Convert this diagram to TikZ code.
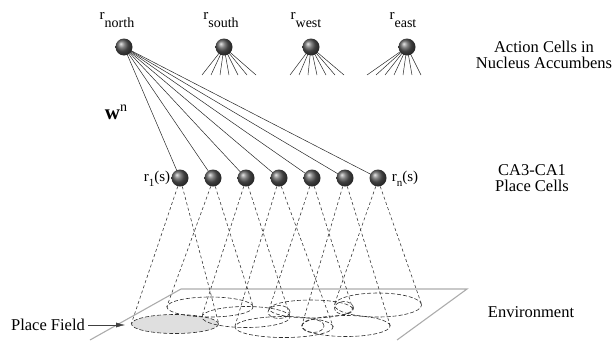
\documentclass[tikz,border=0pt]{standalone}
\usepackage{fontspec}
\setmainfont{Liberation Serif}
\usetikzlibrary{shapes.geometric,backgrounds,calc,arrows.meta}
\newcommand{\cellsub}[3]{\raisebox{#1}{\fontsize{#2}{#2}\selectfont #3}}
\tikzset{cell/.style = {circle, inner sep=0pt, minimum size=17pt, shading=ball, ball color=gray!70!black},
         field/.style = {draw=gray!35!black, dashed, dash pattern=on 4pt off 2pt, ellipse, inner sep=0pt, line width=0.6pt},
         proj/.style = {draw=gray!45!black, dashed, dash pattern=on 3pt off 2.5pt, line width=0.6pt},
         weight/.style = {draw=gray!30!black, line width=0.5pt},
         env/.style = {draw=gray!65, line width=1.1pt},
         lbl/.style = {font=\fontsize{16.5}{16}\selectfont, align=center},
         rlab/.style = {font=\fontsize{15}{15}\selectfont, inner sep=1pt}}

\begin{document}
\begin{tikzpicture}[x=1pt,y=-1pt]
        \useasboundingbox (0,0) rectangle (615,340);

        \node[cell] (north) at (124,47) {};
        \node[cell] (south) at (224,47) {};
        \node[cell] (west) at (311,47) {};
        \node[cell] (east) at (407,47) {};

        \node[rlab] (lnorth) at (117,20) {r\cellsub{-8pt}{14}{north}};
        \node[rlab] (lsouth) at (221,20) {r\cellsub{-8pt}{14}{south}};
        \node[rlab] (lwest) at (306,20) {r\cellsub{-8pt}{14}{west}};
        \node[rlab] (least) at (403,20) {r\cellsub{-8pt}{14}{east}};

        \foreach \i/\x in {1/180,2/213,3/246,4/279,5/312,6/345,7/378}
            \node[cell] (c\i) at (\x,178) {};

        \node[rlab] (lfirst) at (157,179) {r\cellsub{-5pt}{11}{1}(s)};
        \node[rlab] (llast) at (405,179) {r\cellsub{-5pt}{11}{n}(s)};
        \node (weights) at (116,112) {\fontsize{21}{21}\selectfont\bfseries w\cellsub{8pt}{14}{\mdseries n}};

        \draw[env] (90,340) -- (181,289) -- (467,289) -- (397,340);

        \node[field, fill=gray!25, minimum width=87pt, minimum height=19pt] (f1) at (175,324) {};
        \foreach \i/\x/\y/\w/\h in {2/210/307/86/20, 3/246/317/88/21, 4/284/327/98/21, 5/311/309/83/18, 6/346/326/88/21, 7/378/305/87/24}
            \node[field, minimum width=\w pt, minimum height=\h pt] (f\i) at (\x,\y) {};
        \foreach \i/\x/\y/\w in {a/279/312/22, b/313/326/22, c/344/308/19}
            \node[field, minimum width=\w pt, minimum height=13pt] (s\i) at (\x,\y) {};

        \foreach \i in {1,...,7}
            \draw[proj] (c\i.255) -- (f\i.west) (c\i.285) -- (f\i.east);

        \begin{scope}[on background layer]
            \foreach \i in {1,...,7}
                \draw[weight] (north.center) -- (c\i.center);
            \foreach \n/\s in {south/-22, west/-21, east/-40}
                \foreach \k in {0,...,6}{
                    \coordinate (\n-end\k) at ($(\n.center)+(\s+9*\k,28)$);
                    \draw[weight] (\n.center) -- (\n-end\k);
                }
        \end{scope}

        \node[lbl] (pflabel) at (48,325) {Place Field};
        \coordinate (pftip) at (125,325);
        \draw[-{Latex[length=9pt,width=5pt]}, gray!50!black] (pflabel) -- (pftip);

        \node[lbl] (action) at (544,55) {Action Cells in\\Nucleus Accumbens};
        \node[lbl] (placecells) at (532,178) {CA3-CA1\\Place Cells};
        \node[lbl] (envlabel) at (531,312) {Environment};
    \end{tikzpicture}
\end{document}
